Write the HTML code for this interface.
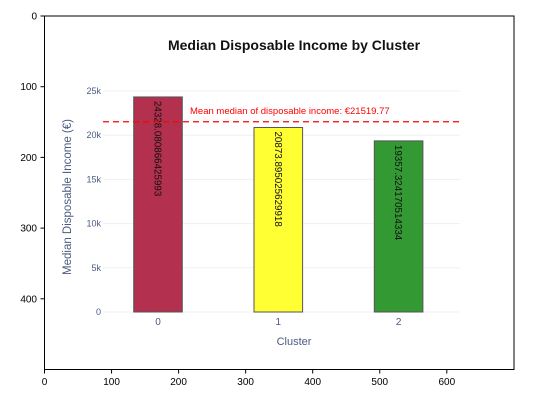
<!DOCTYPE html>
<html><head><meta charset="utf-8"><style>
body{margin:0;background:#fff;width:552px;height:403px;overflow:hidden}
svg text{font-family:"Liberation Sans",sans-serif}
</style></head><body>
<svg width="552" height="403">
<g id="outer"></g>
<text x="294" y="50" text-anchor="middle" font-size="14" font-weight="bold" fill="#111">Median Disposable Income by Cluster</text>
<text transform="translate(71,197) rotate(-90)" text-anchor="middle" font-size="11.5" fill="#4a5a80">Median Disposable Income (€)</text>
<text x="294" y="345" text-anchor="middle" font-size="11" fill="#4a5a80">Cluster</text>
<g id="plot"></g>
</svg>
<script>
const categories=["0","1","2"];
const values=[24328.080866425993,20873.895025629918,19357.324170514334];
const valueLabels=["24328.080866425993","20873.895025629918","19357.324170514334"];
const colors=["#b3304f","#ffff33","#339933"];
const yTicks=[0,5000,10000,15000,20000,25000];
const yTickLabels=["0","5k","10k","15k","20k","25k"];
const meanValue=21519.77;
const outerXTicks=[0,100,200,300,400,500,600];
const outerYTicks=[0,100,200,300,400];

const NS="http://www.w3.org/2000/svg";
function mk(p,t,a){const e=document.createElementNS(NS,t);for(const k in a)e.setAttribute(k,a[k]);p.appendChild(e);return e;}
const y=v=>312-v*(221/25000);
const x=i=>158+i*120.3;
const plot=document.getElementById('plot');
yTicks.forEach((t,i)=>{
 const g=mk(plot,'line',{x1:103,x2:460,y1:y(t),y2:y(t),stroke:'#eef0f6','stroke-width':1});
 
 
 const l=mk(plot,'text',{x:101,y:y(t)+3,'text-anchor':'end','font-size':9,fill:'#4a5a80'});
 l.textContent=yTickLabels[i];
 
 
});
categories.forEach((c,i)=>{
 const b=mk(plot,'rect',{x:x(i)-24.3,y:y(values[i]),width:48.6,height:y(0)-y(values[i]),fill:colors[i],stroke:'#555','stroke-width':1});
 
 
 const t=mk(plot,'text',{transform:`translate(${x(i)-3.5},${y(values[i])+4}) rotate(90)`,'font-size':9.8,fill:'#111'});
 t.textContent=valueLabels[i];
 
 
 const l=mk(plot,'text',{x:x(i),y:325,'text-anchor':'middle','font-size':10,fill:'#4a5a80'});
 l.textContent=c;
 
 
});
const ml=mk(plot,'line',{x1:103,x2:460,y1:y(meanValue),y2:y(meanValue),stroke:'#ff0000','stroke-width':1.2,'stroke-dasharray':'6,4'});


const mt=mk(plot,'text',{x:190,y:y(meanValue)-8,'font-size':9.5,fill:'#ff0000'});
mt.textContent='Mean median of disposable income: €'+meanValue.toFixed(2);



const outer=document.getElementById('outer');
const X=u=>44.5+u*0.6705, Y=v=>16+v*0.707;
const fr=mk(outer,'rect',{x:44.5,y:16,width:469.5,height:353.5,fill:'none',stroke:'#000','stroke-width':1});


outerXTicks.forEach(t=>{
 mk(outer,'line',{x1:X(t),x2:X(t),y1:369.5,y2:373.5,stroke:'#000'});
 const l=mk(outer,'text',{x:X(t),y:385,'text-anchor':'middle','font-size':10,fill:'#000','font-family':'DejaVu Sans, sans-serif'});
 l.textContent=t;
 
 
});
outerYTicks.forEach(t=>{
 mk(outer,'line',{x1:40.5,x2:44.5,y1:Y(t),y2:Y(t),stroke:'#000'});
 const l=mk(outer,'text',{x:37,y:Y(t)+3.5,'text-anchor':'end','font-size':10,fill:'#000','font-family':'DejaVu Sans, sans-serif'});
 l.textContent=t;
 
 
});
</script>
</body></html>
